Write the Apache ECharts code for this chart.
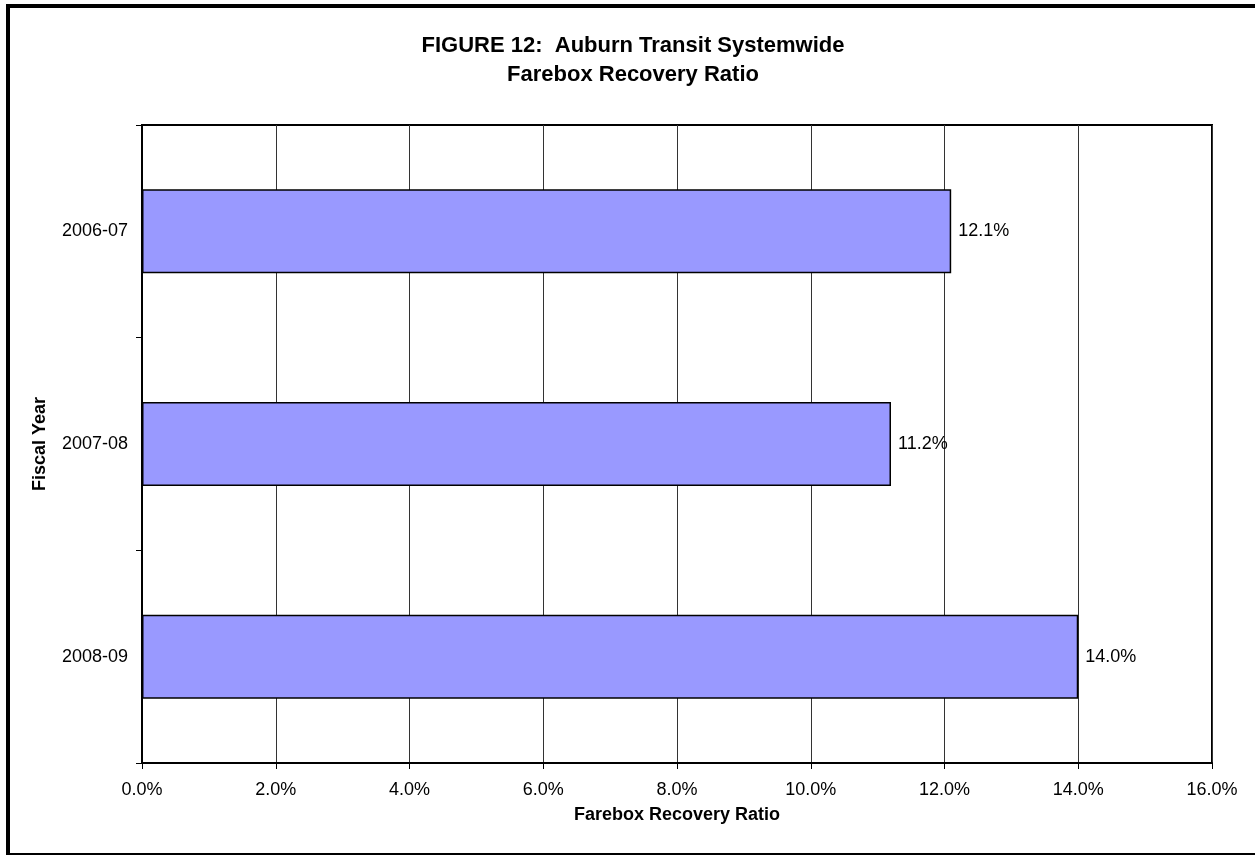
<!DOCTYPE html>
<html>
<head>
<meta charset="utf-8">
<script src="https://cdn.jsdelivr.net/npm/echarts@6/dist/echarts.min.js"></script>
<style>
  html, body { margin: 0; padding: 0; background: #fff; }
  #chart { width: 1255px; height: 855px; }
</style>
</head>
<body>
<div id="chart"></div>
<script>
// Fiscal years (top to bottom) and systemwide farebox recovery ratio, in percent
const fiscalYears = ['2006-07', '2007-08', '2008-09'];
const fareboxRatio = [12.1, 11.2, 14.0];
const axisMin = 0;
const axisMax = 16;
const axisStep = 2;

const FONT = '"Liberation Sans", Arial, sans-serif';

const chart = echarts.init(document.getElementById('chart'), null, { renderer: 'canvas' });

chart.setOption({
  backgroundColor: '#ffffff',
  animation: false,
  title: {
    text: 'FIGURE 12:  Auburn Transit Systemwide\nFarebox Recovery Ratio',
    left: 633,
    top: 31,
    padding: 0,
    textAlign: 'center',
    textStyle: {
      fontFamily: FONT,
      fontSize: 22,
      fontWeight: 'bold',
      color: '#000',
      lineHeight: 29
    }
  },
  graphic: [
    {
      type: 'rect',
      shape: { x: 8, y: 6, width: 1262, height: 849 },
      style: { fill: 'none', stroke: '#000', lineWidth: 4 },
      silent: true
    }
  ],
  grid: {
    left: 142,
    top: 125,
    width: 1070,
    height: 638,
    show: true,
    borderColor: '#000',
    borderWidth: 2,
    backgroundColor: 'transparent'
  },
  xAxis: {
    type: 'value',
    min: axisMin,
    max: axisMax,
    interval: axisStep,
    name: 'Farebox Recovery Ratio',
    nameLocation: 'middle',
    nameGap: 43,
    nameTextStyle: { fontFamily: FONT, fontSize: 18, fontWeight: 'bold', color: '#000' },
    axisLine: { show: true, lineStyle: { color: '#000', width: 2 } },
    axisTick: { show: true, length: 6, lineStyle: { color: '#000', width: 1 } },
    axisLabel: {
      margin: 18,
      fontFamily: FONT,
      fontSize: 18,
      color: '#000',
      formatter: v => v.toFixed(1) + '%'
    },
    splitLine: { show: true, lineStyle: { color: '#333', width: 1 } }
  },
  yAxis: {
    type: 'category',
    data: fiscalYears,
    inverse: true,
    name: 'Fiscal Year',
    nameLocation: 'middle',
    nameRotate: 90,
    nameGap: 93,
    nameTextStyle: { fontFamily: FONT, fontSize: 18, fontWeight: 'bold', color: '#000' },
    axisLine: { show: true, lineStyle: { color: '#000', width: 2 } },
    axisTick: { show: true, length: 6, alignWithLabel: false, lineStyle: { color: '#000', width: 1 } },
    axisLabel: { margin: 14, fontFamily: FONT, fontSize: 18, color: '#000' },
    splitLine: { show: false }
  },
  series: [
    {
      type: 'bar',
      data: fareboxRatio,
      barWidth: '39.5%',
      itemStyle: { color: '#9999FF', borderColor: '#000', borderWidth: 1.5 },
      label: {
        show: true,
        position: 'right',
        distance: 7,
        fontFamily: FONT,
        fontSize: 18,
        color: '#000',
        formatter: p => p.value.toFixed(1) + '%'
      }
    }
  ]
});
</script>
</body>
</html>
